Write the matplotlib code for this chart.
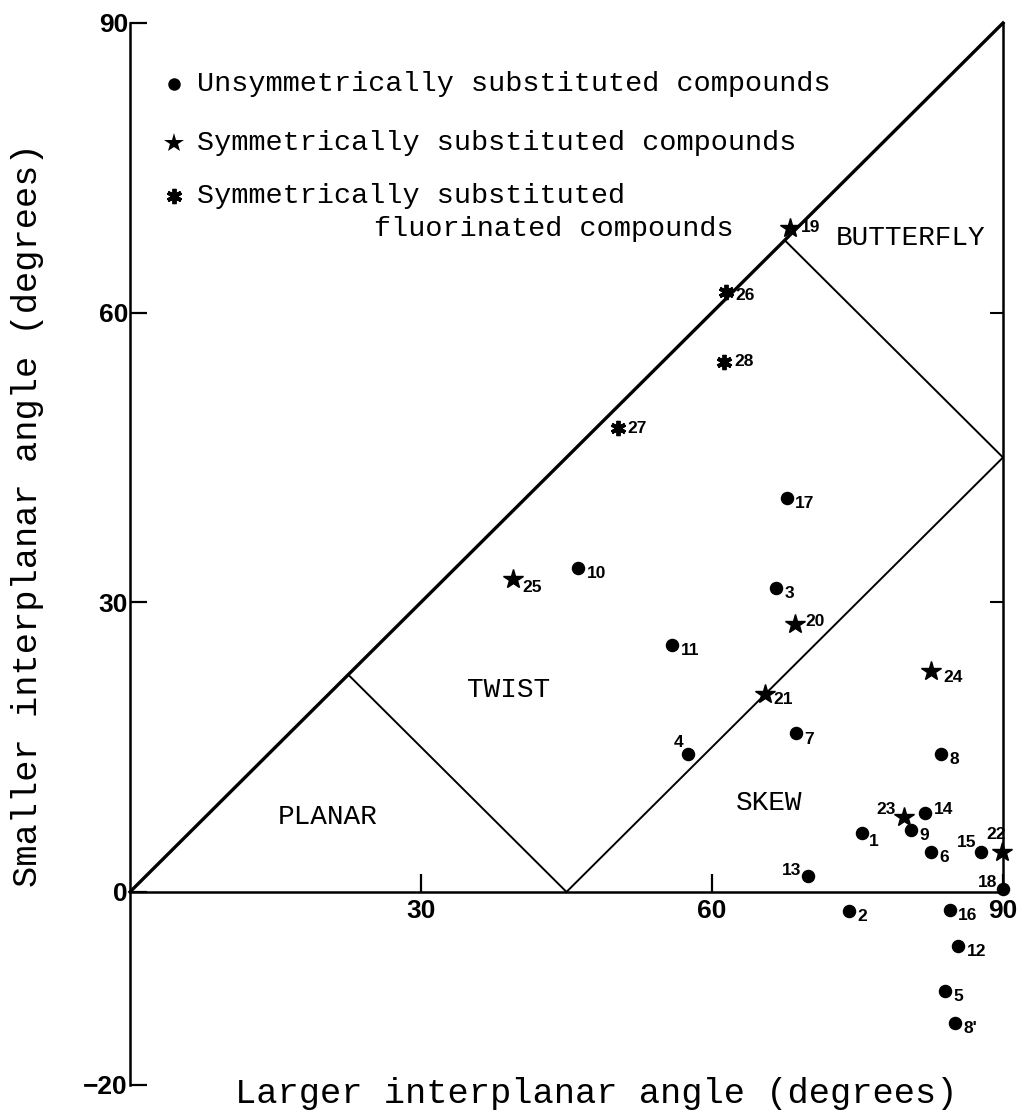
import matplotlib
matplotlib.use('Agg')
import matplotlib.pyplot as plt

# compound data: larger angle (x), smaller angle (y), label
unsym_labels = ['1', '2', '3', '4', '5', '6', '7', '8', "8'", '9', '10', '11',
                '12', '13', '14', '15', '16', '17', '18']
unsym_x = [75.5, 74.1, 66.6, 57.5, 84.0, 82.6, 68.7, 83.6, 85.1, 80.5, 46.2, 55.9,
           85.4, 69.9, 82.0, 87.7, 84.5, 67.7, 90.0]
unsym_y = [6.1, -2.0, 31.5, 14.3, -10.3, 4.1, 16.5, 14.3, -13.6, 6.4, 33.6, 25.6,
           -5.6, 1.6, 8.2, 4.1, -1.9, 40.8, 0.3]

sym_labels = ['19', '20', '21', '22', '23', '24', '25']
sym_x = [68.0, 68.6, 65.5, 89.9, 79.8, 82.6, 39.5]
sym_y = [68.8, 27.7, 20.5, 4.1, 7.8, 22.9, 32.4]

fluor_labels = ['26', '27', '28']
fluor_x = [61.4, 50.3, 61.2]
fluor_y = [62.1, 48.0, 54.9]

# region boundaries
outer_x, outer_y = [0, 90], [0, 90]
planar_x, planar_y = [22.5, 45], [22.5, 0]
skew_x, skew_y = [45, 90], [0, 45]
butterfly_x, butterfly_y = [67.5, 90], [67.5, 45]

region_names = ['PLANAR', 'TWIST', 'SKEW', 'BUTTERFLY']
region_x = [20.4, 39.0, 65.9, 80.5]
region_y = [7.8, 20.9, 9.2, 67.7]

MONO = 'Liberation Mono'
SANS = 'Liberation Sans'

# label placement: (ha, dx, dy) in points
default_off = ('left', 6, -4)
label_off = {
    '4': ('right', -3, 8), '13': ('right', -5, 4), '18': ('right', -4, 5),
    '15': ('right', -3, 7), '23': ('right', -6, 5), '22': ('center', -4, 13),
    '14': ('left', 6, 2), '20': ('left', 7, 2), '19': ('left', 8, 0),
    '26': ('left', 7, -2), '28': ('left', 8, 0), '27': ('left', 7, 0),
    '24': ('left', 9, -5), '25': ('left', 7, -6), '1': ('left', 5, -6),
    '7': ('left', 6, -5),
}

fig = plt.figure(figsize=(10.27, 11.14), dpi=100)
ax = fig.add_axes([130/1027, 29/1114, 873/1027, 1062/1114])
ax.set_xlim(0, 90)
ax.set_ylim(-20, 90)

ax.plot(outer_x, outer_y, color='black', lw=2.4, clip_on=False)
for xs, ys in [(planar_x, planar_y), (skew_x, skew_y), (butterfly_x, butterfly_y)]:
    ax.plot(xs, ys, color='black', lw=1.4)

ax.plot(unsym_x, unsym_y, 'o', color='black', ms=8.7, clip_on=False, zorder=3)
ax.plot(sym_x, sym_y, '*', color='black', ms=15, clip_on=False, zorder=3)
ax.plot(fluor_x, fluor_y, marker=(6, 2, 0), ls='none', color='black', ms=11,
        mew=2.8, clip_on=False, zorder=3)

for labels, xs, ys in [(unsym_labels, unsym_x, unsym_y),
                       (sym_labels, sym_x, sym_y),
                       (fluor_labels, fluor_x, fluor_y)]:
    for lab, x, y in zip(labels, xs, ys):
        ha, dx, dy = label_off.get(lab, default_off)
        ax.annotate(lab, (x, y), xytext=(dx, dy), textcoords='offset points',
                    ha=ha, va='center', fontsize=12.5, fontweight='bold',
                    family=SANS, annotation_clip=False)

for name, x, y in zip(region_names, region_x, region_y):
    ax.text(x, y, name, ha='center', va='center', fontsize=20, family=MONO)

# legend drawn by hand (marker aligned with first line of each entry)
legend_rows = [
    ('o', 9, 0, 0.9425, 'Unsymmetrically substituted compounds'),
    ('*', 15, 0, 0.8870, 'Symmetrically substituted compounds'),
    ((6, 2, 0), 11, 2.8, 0.8370, 'Symmetrically substituted'),
]
for mk, ms, mew, yy, txt in legend_rows:
    ax.plot([0.0504], [yy], marker=mk, ms=ms, mew=mew, color='black', ls='none',
            transform=ax.transAxes)
    ax.text(0.0767, yy, txt, transform=ax.transAxes, ha='left', va='center',
            fontsize=20.5, family=MONO)
ax.text(0.2795, 0.806, 'fluorinated compounds', transform=ax.transAxes,
        ha='left', va='center', fontsize=20.5, family=MONO)

# axes / spines
ax.spines['top'].set_visible(False)
ax.spines['bottom'].set_position(('data', 0))
ax.spines['bottom'].set_bounds(0, 90)
ax.spines['left'].set_bounds(-20, 90)
ax.spines['right'].set_bounds(0, 90)
for s in ['left', 'bottom', 'right']:
    ax.spines[s].set_linewidth(1.8)

ax.set_yticks([-20, 0, 30, 60, 90])
ax.set_xticks([30, 60, 90])
ax.tick_params(axis='y', direction='in', length=12, width=1.6, pad=1.5)
ax.tick_params(axis='x', direction='in', length=13, width=1.6, pad=5)
for lbl in ax.get_xticklabels() + ax.get_yticklabels():
    lbl.set_fontfamily(SANS)
    lbl.set_fontweight('bold')
    lbl.set_fontsize(19)

ax2 = ax.twinx()
ax2.set_ylim(-20, 90)
ax2.set_yticks([30, 60])
ax2.tick_params(direction='in', length=9.5, width=1.5, labelright=False)
for s in ax2.spines.values():
    s.set_visible(False)

ax.set_xlabel('Larger interplanar angle (degrees)', fontsize=25.5, family=MONO,
              va='center')
ax.xaxis.set_label_coords(0.534, -0.008)
ax.set_ylabel('Smaller interplanar angle (degrees)', fontsize=25.5, family=MONO,
              va='center')
ax.yaxis.set_label_coords(-0.117, 0.537)

fig.savefig('out.png', dpi=100)
